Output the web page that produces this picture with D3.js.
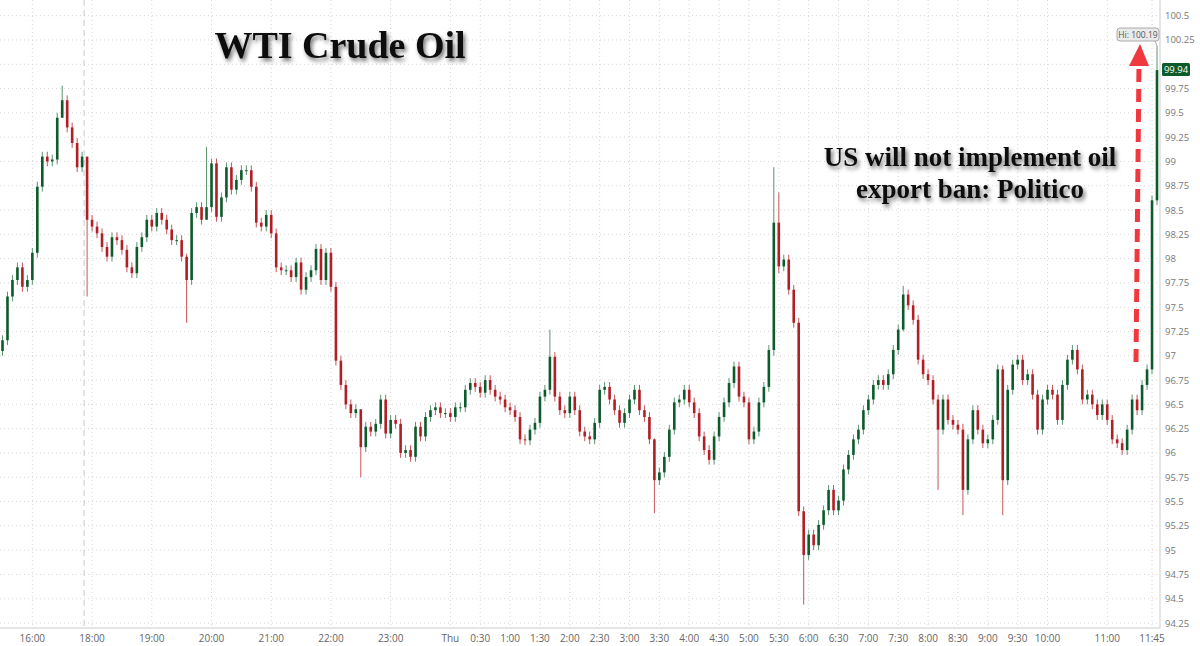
<!DOCTYPE html>
<html><head><meta charset="utf-8">
<script src="https://cdn.jsdelivr.net/npm/d3@7"></script>
<style>body{margin:0;background:#fff}svg{display:block}</style>
</head><body>
<script>
// 5-minute candles, starting 15:30 (session break 17:00-18:00)
const closes = [97.16,97.61,97.78,97.91,97.71,97.78,98.06,98.74,99.05,99.00,
99.02,99.45,99.63,99.35,99.19,98.94,99.05,98.40,98.33,98.26,
98.12,98.02,98.22,98.19,98.09,97.91,97.85,98.12,98.22,98.40,
98.33,98.47,98.40,98.30,98.19,98.19,98.02,97.78,98.47,98.53,
98.40,98.53,98.98,98.43,98.63,98.94,98.71,98.81,98.91,98.91,
98.74,98.37,98.33,98.45,98.26,97.91,97.88,97.88,97.81,97.96,
97.68,97.81,97.88,98.10,97.78,98.06,97.71,96.95,96.70,96.50,
96.41,96.45,96.06,96.27,96.22,96.30,96.55,96.20,96.34,96.30,
96.00,96.03,95.96,96.27,96.17,96.37,96.44,96.47,96.41,96.41,
96.37,96.47,96.47,96.65,96.72,96.68,96.62,96.75,96.65,96.58,
96.55,96.47,96.44,96.37,96.14,96.13,96.24,96.31,96.58,96.65,
96.99,96.58,96.44,96.41,96.58,96.44,96.22,96.17,96.14,96.31,
96.65,96.68,96.55,96.44,96.31,96.41,96.55,96.65,96.44,96.37,
96.14,95.72,95.80,95.96,96.24,96.52,96.55,96.65,96.52,96.41,
96.17,96.03,95.93,96.17,96.37,96.52,96.72,96.89,96.58,96.52,
96.14,96.22,96.52,96.68,97.06,98.37,97.92,97.99,97.68,97.34,
95.40,94.95,95.16,95.05,95.26,95.41,95.62,95.41,95.51,95.83,
95.98,96.14,96.24,96.44,96.55,96.70,96.75,96.70,96.81,97.06,
97.27,97.63,97.52,97.37,96.96,96.81,96.75,96.55,96.24,96.55,
96.34,96.29,96.24,95.62,96.14,96.44,96.24,96.10,96.14,96.34,
96.86,95.72,96.65,96.91,96.96,96.75,96.81,96.60,96.24,96.55,
96.65,96.60,96.34,96.70,96.96,97.06,96.86,96.55,96.60,96.50,
96.39,96.50,96.34,96.14,96.10,96.03,96.24,96.55,96.44,96.70,
96.86,98.60,99.94];
const firstOpen = 97.05;
// notable wick extremes: [candle index, high, low]
const spikes = [[12,99.78,99.45],[17,98.90,97.61],[37,98.05,97.34],[41,99.15,98.40],
[72,96.30,95.75],[110,97.27,96.60],[131,96.15,95.38],[155,98.94,97.00],[156,98.68,97.85],
[161,95.45,94.44],[181,97.72,97.25],[188,96.60,95.62],[193,96.30,95.36],[201,96.90,95.36],
[232,100.19,98.55]];
const yTicks = d3.range(94.25, 100.51, 0.25);
const xTickLabels = ["16:00","18:00","19:00","20:00","21:00","22:00","23:00","Thu","0:30","1:00","1:30","2:00","2:30","3:00","3:30","4:00","4:30","5:00","5:30","6:00","6:30","7:00","7:30","8:00","8:30","9:00","9:30","10:00","11:00","11:45"];
const lastPrice = 99.94, hiPrice = 100.19;

const W=1200,H=646, plotR=1160, plotB=628;
const svg=d3.select("body").append("svg").attr("width",W).attr("height",H);
const defs=svg.append("defs");
const f=defs.append("filter").attr("id","sh").attr("x","-10%").attr("y","-30%").attr("width","130%").attr("height","180%");
f.append("feDropShadow").attr("dx",2).attr("dy",3).attr("stdDeviation",2.2).attr("flood-color","#000").attr("flood-opacity",0.55);

svg.append("rect").attr("width",W).attr("height",H).attr("fill","#fff");
const y=d3.scaleLinear().domain([94.25,100.5]).range([623,15.7]);
const n=closes.length;
const x=d3.scaleLinear().domain([0,n-1]).range([2.5,plotR-3]);

function tickIndex(lbl){
  let h,m;
  if(lbl==="Thu"){h=0;m=0;} else {[h,m]=lbl.split(":").map(Number);}
  let mins;
  if(h>=15 && h<17) mins=(h*60+m)-(15*60+30);
  else { let t=h*60+m; if(h>=18) t-=18*60; else t+=6*60; mins=90+t; }
  return mins/5;
}
yTicks.forEach(v=>{
  svg.append("line").attr("x1",0).attr("x2",plotR).attr("y1",y(v)).attr("y2",y(v))
   .attr("stroke","#d6d6d6").attr("stroke-dasharray","1,3");
});
xTickLabels.forEach(l=>{
  const xi=x(tickIndex(l));
  svg.append("line").attr("x1",xi).attr("x2",xi).attr("y1",0).attr("y2",plotB)
   .attr("stroke","#d6d6d6").attr("stroke-dasharray","1,3");
  svg.append("text").attr("x",xi).attr("y",642).attr("text-anchor","middle")
   .attr("font-family","Open Sans, sans-serif").attr("font-size",10).attr("fill","#666").text(l);
});
svg.append("line").attr("x1",x(16.4)).attr("x2",x(16.4)).attr("y1",0).attr("y2",plotB)
 .attr("stroke","#c8c8c8").attr("stroke-dasharray","6,4");
svg.append("line").attr("x1",0).attr("x2",plotR).attr("y1",plotB).attr("y2",plotB).attr("stroke","#ccc");
svg.append("line").attr("x1",plotR).attr("x2",plotR).attr("y1",0).attr("y2",plotB).attr("stroke","#ccc");
const fmt=v=>String(+v.toFixed(2));
yTicks.filter(v=>Math.abs(y(v)-y(lastPrice))>9).forEach(v=>{
  svg.append("text").attr("x",plotR+5).attr("y",y(v)+3.5).attr("font-family","Open Sans, sans-serif")
   .attr("font-size",9.5).attr("fill","#777").text(fmt(v));
});
const spikeMap=new Map(spikes.map(s=>[s[0],s]));
const data=closes.map((c,i)=>{
  const o=i===0?firstOpen:closes[i-1];
  let hi=Math.max(o,c)+0.05, lo=Math.min(o,c)-0.05;
  if(spikeMap.has(i)){hi=spikeMap.get(i)[1];lo=spikeMap.get(i)[2];}
  return {i,o,c,hi,lo};
});
const bw=2.6;
const g=svg.append("g");
g.selectAll("line.w").data(data).join("line")
 .attr("x1",d=>x(d.i)).attr("x2",d=>x(d.i)).attr("y1",d=>y(d.hi)).attr("y2",d=>y(d.lo))
 .attr("stroke",d=>d.c>=d.o?"#5a9470":"#c9545a").attr("stroke-width",1);
g.selectAll("rect.b").data(data).join("rect")
 .attr("x",d=>x(d.i)-bw/2).attr("width",bw)
 .attr("y",d=>y(Math.max(d.o,d.c))).attr("height",d=>Math.max(1,Math.abs(y(d.o)-y(d.c))))
 .attr("fill",d=>d.c>=d.o?"#0d5a2a":"#b01e26");
svg.append("text").attr("x",340).attr("y",58).attr("text-anchor","middle")
 .attr("font-family","Liberation Serif, serif").attr("font-weight","bold").attr("font-size",38)
 .attr("fill","#111").attr("filter","url(#sh)").text("WTI Crude Oil");
svg.append("text").attr("x",970).attr("y",166).attr("text-anchor","middle")
 .attr("font-family","Liberation Serif, serif").attr("font-weight","bold").attr("font-size",27)
 .attr("fill","#111").attr("filter","url(#sh)").text("US will not implement oil");
svg.append("text").attr("x",970).attr("y",198).attr("text-anchor","middle")
 .attr("font-family","Liberation Serif, serif").attr("font-weight","bold").attr("font-size",27)
 .attr("fill","#111").attr("filter","url(#sh)").text("export ban: Politico");
svg.append("line").attr("x1",1136).attr("y1",362).attr("x2",1139).attr("y2",64)
 .attr("stroke","#f0393f").attr("stroke-width",5).attr("stroke-dasharray","13,7");
svg.append("path").attr("d","M1129,66 L1140,44 L1149,66 Z").attr("fill","#f0393f");
svg.append("rect").attr("x",1117).attr("y",28).attr("width",42).attr("height",13).attr("rx",3)
 .attr("fill","#eaeaea").attr("stroke","#aaa");
svg.append("text").attr("x",1138).attr("y",38).attr("text-anchor","middle").attr("font-family","Open Sans, sans-serif")
 .attr("font-size",8.5).attr("fill","#555").text("Hi: "+hiPrice.toFixed(2));
svg.append("line").attr("x1",1155).attr("x2",x(n-1)).attr("y1",41).attr("y2",y(hiPrice)).attr("stroke","#aaa");
svg.append("rect").attr("x",plotR+2).attr("y",y(lastPrice)-7).attr("width",28).attr("height",13).attr("rx",1.5).attr("fill","#0d5a2a");
svg.append("text").attr("x",plotR+16).attr("y",y(lastPrice)+3).attr("text-anchor","middle").attr("font-family","Open Sans, sans-serif")
 .attr("font-size",9.5).attr("fill","#fff").text(lastPrice.toFixed(2));
</script>
</body></html>
